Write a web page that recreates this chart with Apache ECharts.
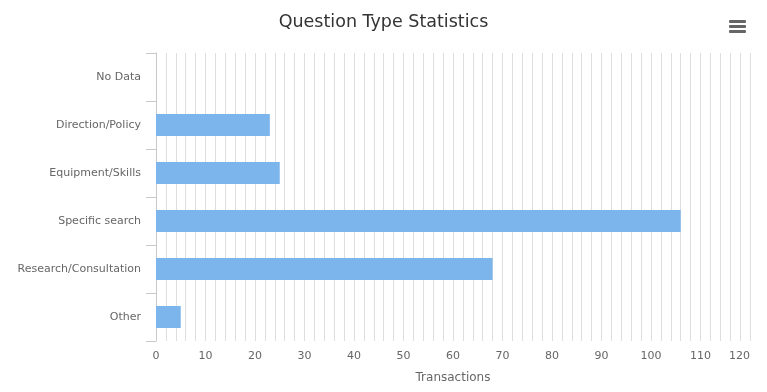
<!DOCTYPE html>
<html>
<head>
<meta charset="utf-8">
<script src="https://cdn.jsdelivr.net/npm/echarts@6/dist/echarts.min.js"></script>
<style>
html,body{margin:0;padding:0;background:#fff;}
#chart{width:767px;height:392px;}
</style>
</head>
<body>
<div id="chart"></div>
<script>
const categories = ["No Data", "Direction/Policy", "Equipment/Skills", "Specific search", "Research/Consultation", "Other"];
const values = [0, 23, 25, 106, 68, 5];
const axisMin = 0;
const axisMax = 120;
const labelStep = 10;
const gridStep = 2;
const titleText = "Question Type Statistics";
const axisTitle = "Transactions";

const FONT = '"DejaVu Sans", "Lucida Grande", sans-serif';
const chart = echarts.init(document.getElementById('chart'), null, {renderer: 'canvas'});
chart.setOption({
  animation: false,
  backgroundColor: '#ffffff',
  title: {
    text: titleText,
    left: 'center',
    top: 8,
    textStyle: {fontFamily: FONT, fontSize: 17.5, fontWeight: 'normal', color: '#333333'}
  },
  grid: {left: 156, right: 17, top: 53, bottom: 51, containLabel: false},
  xAxis: {
    type: 'value',
    min: axisMin,
    max: axisMax,
    interval: gridStep,
    name: axisTitle,
    nameLocation: 'middle',
    nameGap: 31,
    nameTextStyle: {fontFamily: FONT, fontSize: 12, color: '#666666'},
    axisLine: {show: false},
    axisTick: {show: false},
    splitLine: {show: true, lineStyle: {color: '#dedede', width: 1}},
    axisLabel: {
      fontFamily: FONT, fontSize: 11, color: '#666666', margin: 10,
      alignMaxLabel: 'right',
      formatter: function (v) { return (v % labelStep === 0) ? String(v) : ''; }
    }
  },
  yAxis: {
    type: 'category',
    data: categories,
    inverse: true,
    axisLine: {show: true, lineStyle: {color: '#c8c8c8', width: 1}},
    axisTick: {show: true, length: 10, lineStyle: {color: '#c8c8c8'}},
    splitLine: {show: false},
    axisLabel: {fontFamily: FONT, fontSize: 11, color: '#666666', margin: 15}
  },
  series: [{
    type: 'bar',
    data: values,
    barWidth: 22,
    itemStyle: {color: '#7cb5ec'}
  }],
  graphic: [
    {type: 'rect', left: 729, top: 20, shape: {width: 17, height: 3, r: 1}, style: {fill: '#666666'}},
    {type: 'rect', left: 729, top: 25, shape: {width: 17, height: 3, r: 1}, style: {fill: '#666666'}},
    {type: 'rect', left: 729, top: 30, shape: {width: 17, height: 3, r: 1}, style: {fill: '#666666'}}
  ]
});
</script>
</body>
</html>
